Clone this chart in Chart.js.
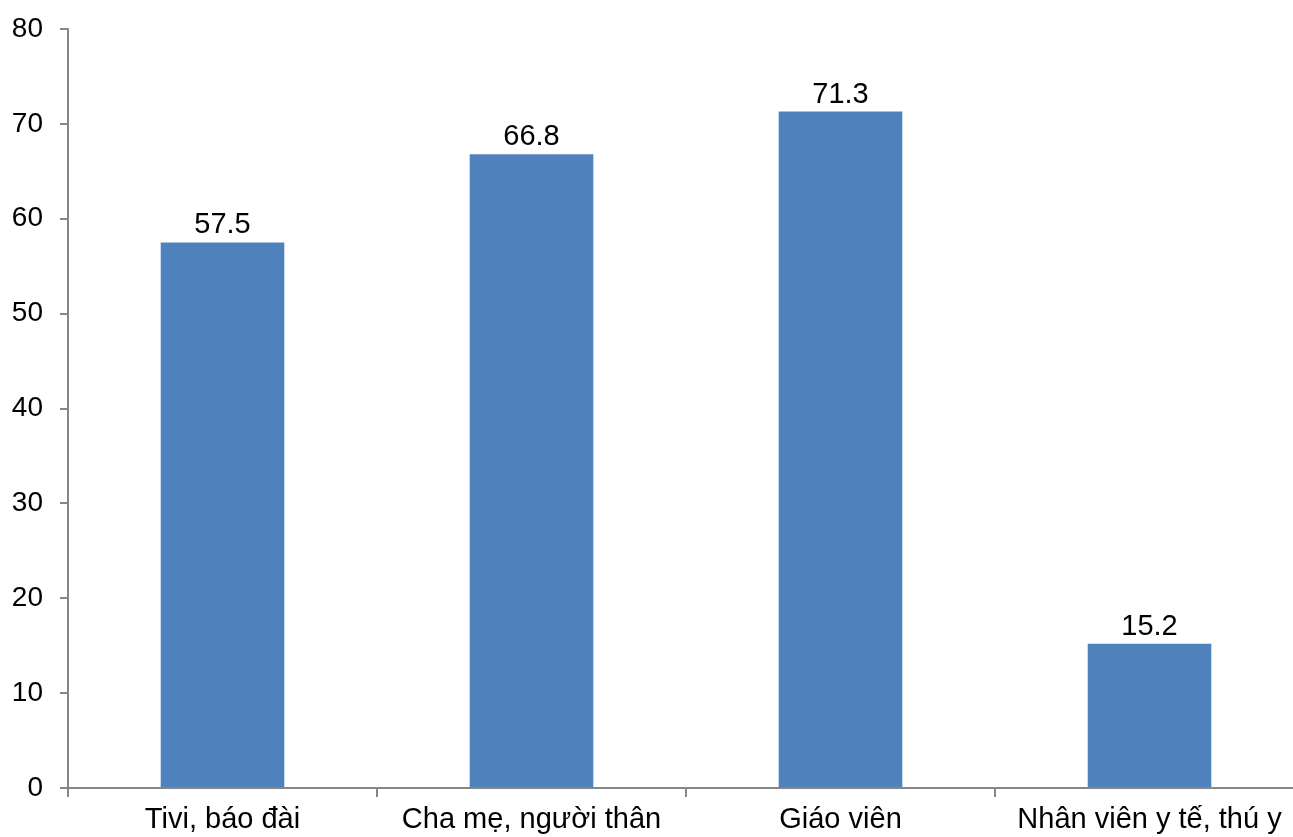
<!DOCTYPE html>
<html>
<head>
<meta charset="utf-8">
<script src="https://cdn.jsdelivr.net/npm/chart.js@4/dist/chart.umd.min.js"></script>
<style>
html,body{margin:0;padding:0;background:#fff;overflow:hidden;}
#wrap{width:1310px;height:860px;position:absolute;left:0;top:0;}
</style>
</head>
<body>
<div id="wrap"><canvas id="c" width="1310" height="860"></canvas></div>
<script>
const categories = ["Tivi, báo đài", "Cha mẹ, người thân", "Giáo viên", "Nhân viên y tế, thú y"];
const values = [57.5, 66.8, 71.3, 15.2];
const yMin = 0, yMax = 80, yStep = 10;

const FONT = "'Liberation Sans', Arial, sans-serif";
const AXIS = "#868686";

const dataLabels = {
  id: 'dataLabels',
  afterDatasetsDraw(chart) {
    const ctx = chart.ctx;
    const meta = chart.getDatasetMeta(0);
    ctx.save();
    ctx.font = "29px " + FONT;
    ctx.fillStyle = "#000";
    ctx.textAlign = "center";
    ctx.textBaseline = "alphabetic";
    meta.data.forEach((bar, i) => {
      ctx.fillText(values[i].toFixed(1), bar.x, bar.y - 9);
    });
    ctx.restore();
  }
};

new Chart(document.getElementById('c'), {
  type: 'bar',
  data: {
    labels: categories,
    datasets: [{
      data: values,
      backgroundColor: '#4F81BD',
      borderWidth: 0,
      categoryPercentage: 1.0,
      barPercentage: 0.4
    }]
  },
  options: {
    responsive: false,
    animation: false,
    devicePixelRatio: 1,
    layout: { padding: { left: 0, right: 6, top: 29, bottom: 0 } },
    plugins: { legend: { display: false }, tooltip: { enabled: false } },
    scales: {
      x: {
        grid: { display: true, drawOnChartArea: false, drawTicks: true, tickLength: 9, color: AXIS, lineWidth: 2, offset: true },
        border: { display: true, color: AXIS, width: 2 },
        ticks: { color: '#000', font: { family: FONT, size: 29 }, padding: 6, maxRotation: 0, autoSkip: false },
        afterFit(scale) { scale.height = 72; }
      },
      y: {
        min: yMin, max: yMax,
        grid: { display: true, drawOnChartArea: false, drawTicks: true, tickLength: 8, color: AXIS, lineWidth: 2 },
        border: { display: true, color: AXIS, width: 2 },
        ticks: { stepSize: yStep, color: '#000', font: { family: FONT, size: 28, lineHeight: 0.5 }, padding: 17 },
        afterFit(scale) { scale.width = 68; }
      }
    }
  },
  plugins: [dataLabels]
});
</script>
</body>
</html>
